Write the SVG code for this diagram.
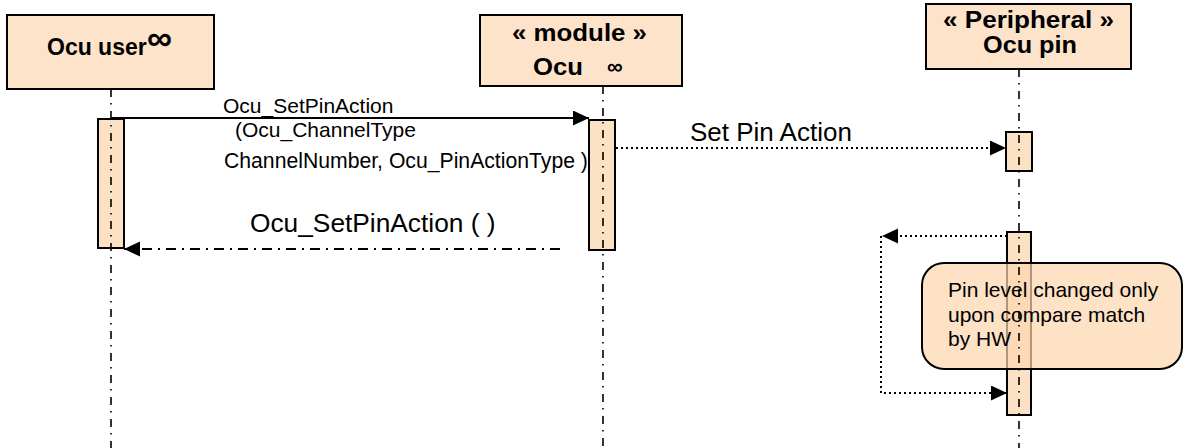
<svg xmlns="http://www.w3.org/2000/svg" width="1186" height="448" viewBox="0 0 1186 448">
<defs>
<marker id="ah" markerUnits="userSpaceOnUse" markerWidth="17" markerHeight="16" refX="16" refY="7.5" orient="auto"><path d="M0,0 L16,7.5 L0,15 Z" fill="#000"/></marker>
<style>
.box{fill:#fde3c9;stroke:#000;stroke-width:2}
.act{fill:#fde1c5;stroke:#000;stroke-width:2}
.life{stroke:#000;stroke-width:1.6;stroke-dasharray:8 6 1.5 6.5;fill:none}
.hd{font-family:"Liberation Sans",Arial,sans-serif;font-weight:bold;fill:#000}
.lbl{font-family:"Liberation Sans",Arial,sans-serif;fill:#000}
.solid{stroke:#000;stroke-width:2;fill:none}
.dot{stroke:#000;stroke-width:2;stroke-dasharray:2 3;fill:none}
.dashdot{stroke:#000;stroke-width:2;stroke-dasharray:10 6 2 6;fill:none}
.note{fill:#fcd6ae;fill-opacity:0.7;stroke:#000;stroke-width:2}
</style>
</defs>
<rect width="1186" height="448" fill="#fff"/>

<g id="node-ocu-user">
<rect class="box" x="7" y="15" width="207" height="74"/>
<text class="hd" x="47" y="55" font-size="23">Ocu user</text>
<text class="hd" x="147" y="50" font-size="35">∞</text>
</g>

<g id="node-module-ocu">
<rect class="box" x="480" y="15" width="202" height="71"/>
<text class="hd" x="512" y="41" font-size="23" textLength="135" lengthAdjust="spacingAndGlyphs">« module »</text>
<text class="hd" x="533" y="75" font-size="23" textLength="50" lengthAdjust="spacingAndGlyphs">Ocu</text>
<text class="hd" x="607" y="74" font-size="22">∞</text>
</g>

<g id="node-peripheral-ocu-pin">
<rect class="box" x="926" y="4" width="205" height="65"/>
<text class="hd" x="943" y="28" font-size="23" textLength="171" lengthAdjust="spacingAndGlyphs">« Peripheral »</text>
<text class="hd" x="983" y="53" font-size="23" textLength="94" lengthAdjust="spacingAndGlyphs">Ocu pin</text>
</g>

<g id="activations">
<rect class="act" x="98" y="119" width="26" height="129"/>
<rect class="act" x="589" y="120" width="26" height="130"/>
<rect class="act" x="1006" y="132" width="26" height="39"/>
<rect class="act" x="1007" y="232" width="24" height="183"/>
</g>

<g id="node-note">
<rect class="note" x="922" y="263" width="260" height="106" rx="22" ry="22"/>
</g>

<g id="lifelines">
<line class="life" x1="111" y1="89" x2="111" y2="448"/>
<line class="life" x1="603" y1="86" x2="603" y2="448"/>
<line class="life" x1="1019" y1="69" x2="1019" y2="448"/>
</g>

<g id="connectors">
<line class="solid" x1="111" y1="118" x2="589" y2="118" marker-end="url(#ah)"/>
<line class="dot" x1="616" y1="148" x2="1006" y2="148" marker-end="url(#ah)"/>
<line class="dashdot" x1="560" y1="249" x2="124" y2="249" marker-end="url(#ah)"/>
<path class="dot" d="M1007,236 H882" marker-end="url(#ah)"/>
<path class="dot" d="M881,236 V393 H1007" marker-end="url(#ah)"/>
</g>

<g id="labels">
<text class="lbl" x="223" y="113" font-size="21">Ocu_SetPinAction</text>
<text class="lbl" x="235" y="137" font-size="21">(Ocu_ChannelType</text>
<text class="lbl" x="224" y="168" font-size="21.2">ChannelNumber, Ocu_PinActionType )</text>
<text class="lbl" x="690" y="141" font-size="26">Set Pin Action</text>
<text class="lbl" x="250" y="232" font-size="26.3">Ocu_SetPinAction ( )</text>
<text class="lbl" x="948" y="297" font-size="21">Pin level changed only</text>
<text class="lbl" x="948" y="322" font-size="21">upon compare match</text>
<text class="lbl" x="948" y="346" font-size="21">by HW</text>
</g>
</svg>
